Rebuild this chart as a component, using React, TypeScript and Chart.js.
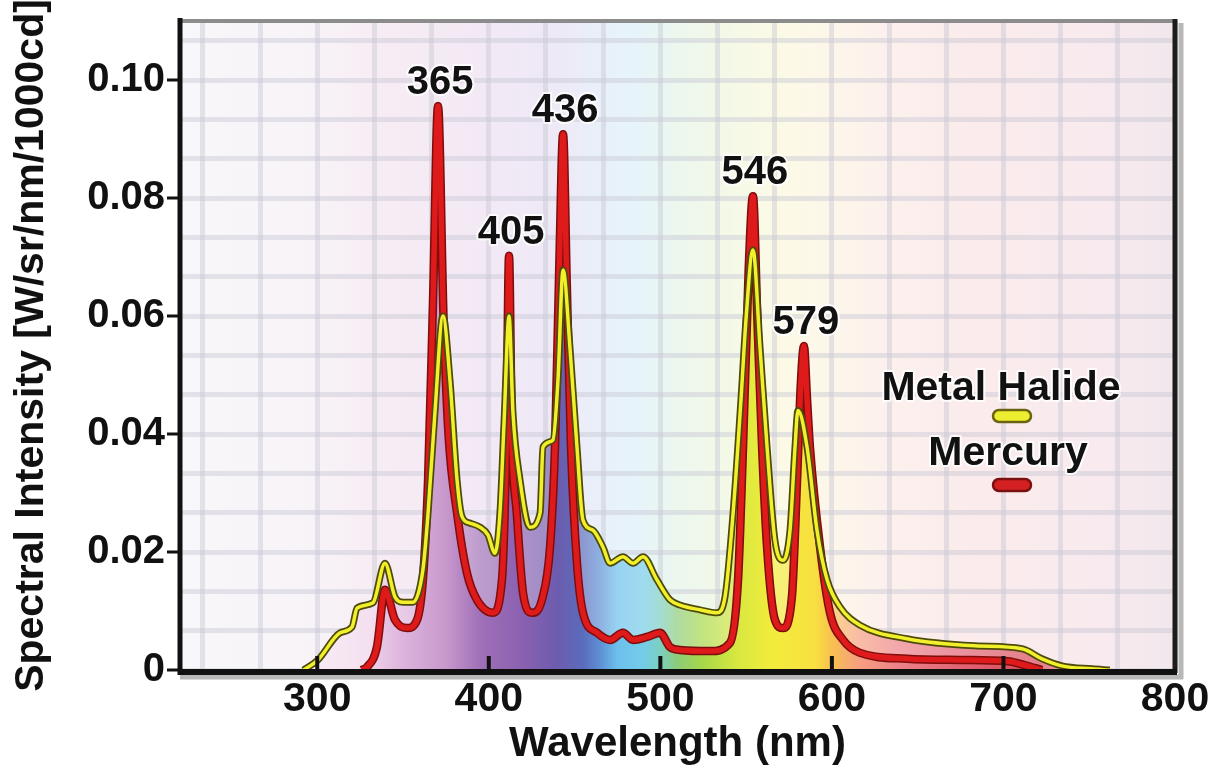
import React, { useEffect, useRef } from 'react';
import { Chart, registerables } from 'chart.js';

Chart.register(...registerables);

// ---------- data ----------
const X_MIN = 220;
const X_MAX = 800;
const Y_MIN = 0;
const Y_MAX = 0.11;

const seriesNames = ['Metal Halide', 'Mercury'];

const metalHalideNm = [
  292, 300.4, 313.3, 320.3, 323.2, 332.5, 339.5, 345.3, 350, 355.8, 361.6, 364.6, 368.6, 373.3, 377.4,
  381.5, 384.4, 389, 394.9, 399.5, 403.6, 406.5, 408.9, 411.8, 414.1, 418.2, 424, 429.9, 431.6, 437.4,
  440.3, 443.3, 447.3, 451.4, 454.9, 460.7, 466.6, 470.7, 478.2, 484.1, 489.9, 498, 505.6, 511.5, 523.1,
  533, 537.7, 542.4, 547, 549.9, 554, 558.1, 562.2, 566.8, 571.5, 575.6, 578.5, 580.2, 585.5, 591.3,
  597.2, 604.7, 616.4, 643.8, 683.4, 710.8, 722.5, 734.1, 751.6, 762,
];
const metalHalideValue = [
  0, 0.0017, 0.0063, 0.0073, 0.0105, 0.0114, 0.0181, 0.0124, 0.0115, 0.0115, 0.017, 0.0266, 0.0436, 0.06, 0.049,
  0.0322, 0.026, 0.0249, 0.0242, 0.0229, 0.0198, 0.0266, 0.042, 0.06, 0.0436, 0.0322, 0.0242, 0.0266, 0.0378, 0.039,
  0.049, 0.0678, 0.0547, 0.0378, 0.0254, 0.0237, 0.0208, 0.0181, 0.0192, 0.0181, 0.0192, 0.0153, 0.0119, 0.011, 0.0102,
  0.0097, 0.0124, 0.0266, 0.0458, 0.0593, 0.0712, 0.0547, 0.0378, 0.022, 0.0186, 0.0237, 0.0378, 0.044, 0.0378, 0.0237,
  0.0153, 0.0107, 0.0076, 0.0053, 0.0041, 0.0036, 0.0019, 0.0007, 0.0002, 0,
];

const mercuryNm = [
  326, 329, 334.8, 339.5, 345.3, 352.3, 358.2, 361.6, 364.6, 367.5, 370.4, 373.6, 376.5, 381.5, 387.3,
  393.1, 402.5, 407.7, 410.3, 411.8, 413.4, 416.3, 420, 425.2, 431, 435.7, 438.6, 441.2, 443.3, 445.5,
  447.9, 451.4, 454.9, 463.1, 470.7, 478.2, 484.1, 492.2, 499.8, 505.6, 511.5, 529, 540.6, 545.3, 548.2,
  551.5, 554, 556.5, 559.3, 562.2, 566.8, 571.5, 576.7, 579.7, 581.8, 583.7, 585.5, 587.2, 593.1, 598.9,
  606.5, 616.4, 643.8, 674.7, 702.7, 712.6, 722.5,
];
const mercuryValue = [
  0, 0.0005, 0.0039, 0.0136, 0.0085, 0.0071, 0.0085, 0.0153, 0.0322, 0.0627, 0.0956, 0.06, 0.04, 0.0266, 0.0164,
  0.0119, 0.0097, 0.0153, 0.04, 0.0702, 0.04, 0.0266, 0.013, 0.0097, 0.0119, 0.0208, 0.0378, 0.07, 0.0908, 0.065,
  0.0378, 0.0181, 0.0097, 0.0063, 0.0051, 0.0063, 0.0051, 0.0056, 0.0063, 0.0039, 0.0034, 0.0032, 0.0046, 0.0153, 0.0378,
  0.068, 0.0803, 0.06, 0.0378, 0.0208, 0.0085, 0.0071, 0.0124, 0.0322, 0.048, 0.0549, 0.046, 0.0378, 0.0208, 0.0097,
  0.0051, 0.0029, 0.0019, 0.0017, 0.0015, 0.0008, 0,
];

const xTickValues = [300, 400, 500, 600, 700, 800];
const xTickLabels = ['300', '400', '500', '600', '700', '800'];
const yTickValues = [0, 0.02, 0.04, 0.06, 0.08, 0.1];
const yTickLabels = ['0', '0.02', '0.04', '0.06', '0.08', '0.10'];

const peakNm = [370.4, 411.8, 443.3, 554, 583.7];
const peakLabels = ['365', '405', '436', '546', '579'];

const xTitle = 'Wavelength (nm)';
const yTitle = 'Spectral Intensity [W/sr/nm/1000cd]';

// ---------- styles ----------
const FONT = "'Liberation Sans', Arial, Helvetica, sans-serif";
const GRID_COLOR = 'rgba(200,200,212,0.45)';

const fillStops: [number, string][] = [
  [290, '#f6e6f2'], [330, '#efd2ea'], [350, '#dcb4dc'], [375, '#c898cc'], [395, '#a070b8'],
  [420, '#8a60b0'], [440, '#6c5cae'], [455, '#5a6cbc'], [465, '#5e90d4'], [475, '#6cc0ec'],
  [490, '#74cce8'], [500, '#7ccfc0'], [510, '#8ccc78'], [525, '#a8d848'], [545, '#d8e840'],
  [565, '#f2ec3c'], [590, '#f8e040'], [600, '#f8c050'], [615, '#f6a080'], [640, '#ec8088'],
  [680, '#e06070'], [720, '#d84858'], [760, '#e8a0a8'],
];

const bgStops: [number, string][] = [
  [220, '#f8f7f9'], [300, '#f8f3f7'], [340, '#f7ecf4'], [400, '#f2e9f5'], [440, '#eee9f6'],
  [465, '#e9f0f9'], [485, '#e6f4fa'], [510, '#ecf7ee'], [540, '#f4f9e7'], [570, '#fcfae6'],
  [600, '#fdf6ea'], [630, '#fcf1ed'], [680, '#fbebec'], [760, '#f8eaee'], [800, '#f1e7ec'],
];

function mixWhite(hex: string, t: number) {
  const n = parseInt(hex.slice(1), 16);
  const r = (n >> 16) & 255, g = (n >> 8) & 255, b = n & 255;
  const m = (v: number) => Math.round(v + (255 - v) * t);
  return `rgb(${m(r)},${m(g)},${m(b)})`;
}

function spectrumGradient(chart: any, stops: [number, string][], lighten: number) {
  const { ctx, chartArea, scales } = chart;
  if (!chartArea || !scales || !scales.x) return 'rgba(0,0,0,0)';
  const x = scales.x;
  const g = ctx.createLinearGradient(x.getPixelForValue(X_MIN), 0, x.getPixelForValue(X_MAX), 0);
  stops.forEach(([nm, c]) => {
    const t = Math.min(1, Math.max(0, (nm - X_MIN) / (X_MAX - X_MIN)));
    g.addColorStop(t, mixWhite(c, lighten));
  });
  return g;
}

const backgroundPlugin = {
  id: 'spectrumBackground',
  beforeDraw(chart: any) {
    const { ctx, chartArea: a } = chart;
    ctx.save();
    ctx.fillStyle = spectrumGradient(chart, bgStops, 0);
    ctx.fillRect(a.left, a.top, a.right - a.left, a.bottom - a.top);
    ctx.restore();
  },
};

const framePlugin = {
  id: 'frame',
  afterDatasetsDraw(chart: any) {
    const { ctx, chartArea: a, scales } = chart;
    const x = scales.x, y = scales.y;
    ctx.save();
    ctx.lineCap = 'butt';
    // shadows
    ctx.strokeStyle = '#b8b8b8';
    ctx.lineWidth = 5;
    ctx.beginPath(); ctx.moveTo(a.left, a.bottom + 7); ctx.lineTo(a.right + 8, a.bottom + 7); ctx.stroke();
    ctx.beginPath(); ctx.moveTo(a.right + 6, a.top + 2); ctx.lineTo(a.right + 6, a.bottom + 9); ctx.stroke();
    // top border
    ctx.strokeStyle = '#8c8c8c';
    ctx.lineWidth = 4;
    ctx.beginPath(); ctx.moveTo(a.left, a.top); ctx.lineTo(a.right + 2, a.top); ctx.stroke();
    // right border
    ctx.strokeStyle = '#1c1c1c';
    ctx.lineWidth = 5;
    ctx.beginPath(); ctx.moveTo(a.right, a.top - 2); ctx.lineTo(a.right, a.bottom + 3); ctx.stroke();
    // bottom axis
    ctx.strokeStyle = '#111';
    ctx.lineWidth = 6;
    ctx.beginPath(); ctx.moveTo(a.left - 2, a.bottom + 2); ctx.lineTo(a.right + 2, a.bottom + 2); ctx.stroke();
    // left axis
    ctx.lineWidth = 5;
    ctx.beginPath(); ctx.moveTo(a.left, a.top - 3); ctx.lineTo(a.left, a.bottom + 5); ctx.stroke();
    // y tick marks
    ctx.lineWidth = 3;
    yTickValues.forEach((v) => {
      const py = y.getPixelForValue(v);
      ctx.beginPath(); ctx.moveTo(a.left - 13, py); ctx.lineTo(a.left, py); ctx.stroke();
    });
    // x tick marks (inside)
    ctx.lineWidth = 4;
    xTickValues.forEach((v) => {
      if (v >= X_MAX) return;
      const px = x.getPixelForValue(v);
      ctx.beginPath(); ctx.moveTo(px, a.bottom - 14); ctx.lineTo(px, a.bottom); ctx.stroke();
    });
    ctx.restore();
  },
};

function haloText(ctx: CanvasRenderingContext2D, text: string, px: number, py: number) {
  ctx.lineJoin = 'round';
  ctx.strokeStyle = 'rgba(255,255,255,0.85)';
  ctx.lineWidth = 4;
  ctx.strokeText(text, px, py);
  ctx.fillStyle = '#111';
  ctx.fillText(text, px, py);
}

const peakLabelPlugin = {
  id: 'peakLabels',
  afterDatasetsDraw(chart: any) {
    const { ctx, scales } = chart;
    ctx.save();
    ctx.font = `bold 40px ${FONT}`;
    ctx.textAlign = 'center';
    ctx.textBaseline = 'alphabetic';
    peakNm.forEach((nm, i) => {
      const idx = mercuryNm.indexOf(nm);
      if (idx < 0) return;
      const px = scales.x.getPixelForValue(nm);
      const py = scales.y.getPixelForValue(mercuryValue[idx]);
      haloText(ctx, peakLabels[i], px + 2, py - 12);
    });
    ctx.restore();
  },
};

function pill(ctx: CanvasRenderingContext2D, cx: number, cy: number, w: number, h: number, fill: string, edge: string) {
  const r = h / 2;
  ctx.beginPath();
  ctx.moveTo(cx - w / 2 + r, cy - r);
  ctx.lineTo(cx + w / 2 - r, cy - r);
  ctx.arc(cx + w / 2 - r, cy, r, -Math.PI / 2, Math.PI / 2);
  ctx.lineTo(cx - w / 2 + r, cy + r);
  ctx.arc(cx - w / 2 + r, cy, r, Math.PI / 2, Math.PI * 1.5);
  ctx.closePath();
  ctx.fillStyle = fill;
  ctx.fill();
  ctx.strokeStyle = edge;
  ctx.lineWidth = 2.5;
  ctx.stroke();
}

const legendPlugin = {
  id: 'customLegend',
  afterDraw(chart: any) {
    const { ctx } = chart;
    ctx.save();
    ctx.font = `bold 41px ${FONT}`;
    ctx.textAlign = 'center';
    ctx.textBaseline = 'alphabetic';
    haloText(ctx, seriesNames[0], 1001, 400);
    pill(ctx, 1012, 416, 38, 12, '#eeee30', '#6a6410');
    haloText(ctx, seriesNames[1], 1008, 465);
    pill(ctx, 1012, 485, 38, 12, '#d42020', '#7a1010');
    ctx.restore();
  },
};

export default function App() {
  const ref = useRef<HTMLCanvasElement>(null);

  useEffect(() => {
    const canvas = ref.current;
    if (!canvas) return;
    const mh = metalHalideNm.map((x, i) => ({ x, y: metalHalideValue[i] }));
    const hg = mercuryNm.map((x, i) => ({ x, y: mercuryValue[i] }));

    const xGrid: number[] = [];
    for (let v = X_MAX; v > X_MIN + 1; v -= 100 / 3) xGrid.unshift(v);
    const yGrid: number[] = [];
    for (let i = 0; (i * 0.02) / 3 < Y_MAX - 1e-9; i++) yGrid.push((i * 0.02) / 3);

    const common: any = { pointRadius: 0, pointHoverRadius: 0, cubicInterpolationMode: 'monotone', fill: false };

    const chart = new Chart(canvas, {
      type: 'line',
      data: {
        datasets: [
          { ...common, label: seriesNames[0], data: mh, borderColor: '#f2f02a', borderWidth: 3.5 },
          { ...common, label: seriesNames[0] + ' edge', data: mh, borderColor: '#4d4a0c', borderWidth: 7 },
          { ...common, label: seriesNames[1], data: hg, borderColor: '#de1a1a', borderWidth: 5.5 },
          { ...common, label: seriesNames[1] + ' edge', data: hg, borderColor: '#7e0d0d', borderWidth: 8.5 },
          {
            ...common, label: seriesNames[1] + ' fill', data: hg, borderWidth: 0, borderColor: 'rgba(0,0,0,0)',
            fill: 'origin', backgroundColor: (c: any) => spectrumGradient(c.chart, fillStops, 0),
          },
          {
            ...common, label: seriesNames[0] + ' fill', data: mh, borderWidth: 0, borderColor: 'rgba(0,0,0,0)',
            fill: 'origin', backgroundColor: (c: any) => spectrumGradient(c.chart, fillStops, 0.3),
          },
        ],
      },
      options: {
        responsive: false,
        animation: false,
        events: [],
        devicePixelRatio: 1,
        layout: { padding: { top: 21, right: 35, bottom: 0, left: 0 } },
        plugins: { legend: { display: false }, tooltip: { enabled: false } },
        scales: {
          x: {
            type: 'linear',
            min: X_MIN,
            max: X_MAX,
            afterBuildTicks: (scale: any) => { scale.ticks = xGrid.map((v) => ({ value: v })); },
            afterFit: (scale: any) => { scale.height = 95; scale.paddingLeft = 0; scale.paddingRight = 0; },
            grid: { color: GRID_COLOR, lineWidth: 5, drawTicks: false },
            border: { display: false },
            ticks: {
              autoSkip: false, minRotation: 0, maxRotation: 0, padding: 5, color: '#111',
              font: { family: FONT, size: 41, weight: 'bold' },
              callback: (value: any) => {
                const i = xTickValues.findIndex((v) => Math.abs(v - Number(value)) < 1e-6);
                return i >= 0 ? xTickLabels[i] : '';
              },
            },
            title: {
              display: true, text: xTitle, color: '#111',
              font: { family: FONT, size: 42, weight: 'bold', lineHeight: 1 },
              padding: { top: 0, bottom: 0 },
            },
          },
          y: {
            min: Y_MIN,
            max: Y_MAX,
            afterBuildTicks: (scale: any) => { scale.ticks = yGrid.map((v) => ({ value: v })); },
            afterFit: (scale: any) => { scale.width = 180; scale.paddingTop = 0; scale.paddingBottom = 0; },
            grid: { color: GRID_COLOR, lineWidth: 5, drawTicks: false },
            border: { display: false },
            ticks: {
              autoSkip: false, padding: 15, color: '#111',
              font: { family: FONT, size: 40, weight: 'bold' },
              callback: (value: any) => {
                const i = yTickValues.findIndex((v) => Math.abs(v - Number(value)) < 1e-9);
                return i >= 0 ? yTickLabels[i] : '';
              },
            },
            title: {
              display: true, text: yTitle, color: '#111',
              font: { family: FONT, size: 41, weight: 'bold' },
              padding: { top: 7, bottom: 0 },
            },
          },
        },
      },
      plugins: [backgroundPlugin, framePlugin, peakLabelPlugin, legendPlugin],
    } as any);

    return () => chart.destroy();
  }, []);

  return (
    <div style={{ position: 'fixed', left: 0, top: 0, width: 1210, height: 765, background: '#ffffff' }}>
      <canvas ref={ref} width={1210} height={765} style={{ display: 'block' }} />
    </div>
  );
}
